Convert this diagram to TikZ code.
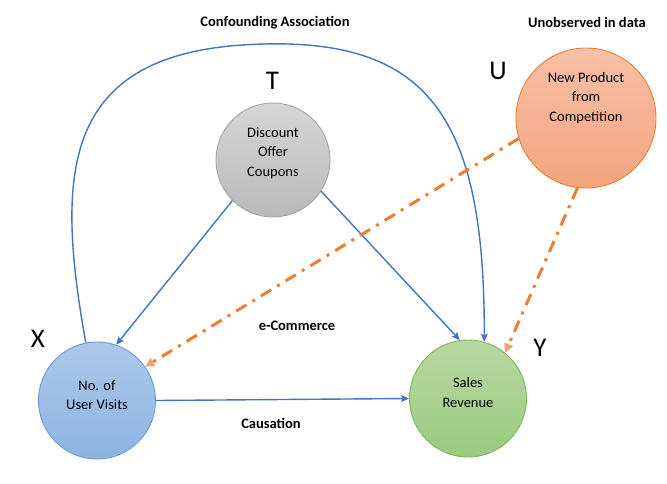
\documentclass[tikz,border=0pt]{standalone}
\usepackage{fontspec}
\setmainfont{Carlito}
\usetikzlibrary{arrows.meta}
\definecolor{bluel}{HTML}{4472C4}
\definecolor{orl}{HTML}{ED7D31}
\definecolor{orhead}{HTML}{F4A070}
\definecolor{gtop}{HTML}{D6D6D6}
\definecolor{gbot}{HTML}{B9B9B9}
\definecolor{gbd}{HTML}{A5A5A5}
\definecolor{btop}{HTML}{ADC8EA}
\definecolor{bbot}{HTML}{8DB3E2}
\definecolor{bbd}{HTML}{6C9BD8}
\definecolor{grtop}{HTML}{B7D8A3}
\definecolor{grbot}{HTML}{9BCB7E}
\definecolor{grbd}{HTML}{7DB55A}
\definecolor{otop}{HTML}{F7C0A6}
\definecolor{obot}{HTML}{F4A47F}
\tikzset{
  circ/.style={circle, inner sep=0pt, line width=0.9pt},
  ctext/.style={font=\fontsize{14.5}{19.5}\selectfont, align=center, inner sep=0pt},
  bigl/.style={font=\fontsize{27}{30}\selectfont, inner sep=0pt},
  lbl/.style={font=\fontsize{14.5}{17}\selectfont\bfseries, inner sep=0pt},
  barrow/.style={draw=bluel, line width=1.4pt, -{Stealth[length=8pt,width=7pt,inset=1.5pt]}},
  oarrow/.style={draw=orl, line width=3pt, dash pattern=on 12pt off 7pt on 3pt off 7pt, -{Triangle[length=9pt,width=9pt,fill=orhead,color=orhead]}},
}
\begin{document}
\begin{tikzpicture}[x=1pt,y=-1pt]
\useasboundingbox (0,0) rectangle (667,483);
% circles
\node[circ, minimum size=114pt, draw=gbd, top color=gtop, bottom color=gbot] (T) at (273,160) {};
\node[circ, minimum size=117pt, draw=bbd, top color=btop, bottom color=bbot] (X) at (97,400.5) {};
\node[circ, minimum size=117pt, draw=grbd, top color=grtop, bottom color=grbot] (Y) at (468,398.5) {};
\node[circ, minimum size=140pt, draw=orl, top color=otop, bottom color=obot] (U) at (586,118) {};
% texts in circles
\node[ctext] (Tt) at (273,153) {Discount\\Offer\\Coupons};
\node[ctext] (Xt) at (97,395) {No. of\\User Visits};
\node[ctext] (Yt) at (468,392.5) {Sales\\Revenue};
\node[ctext] (Ut) at (586,98) {New Product\\from\\Competition};
% letters
\node[bigl] (Tl) at (272.5,81) {T};
\node[bigl] (Ul) at (498,71) {U};
\node[bigl] (Xl) at (38,339) {X};
\node[bigl] (Yl) at (540,348) {Y};
% labels
\node[lbl] (l1) at (275,23) {Confounding Association};
\node[lbl] (l2) at (587,22) {Unobserved in data};
\node[lbl] (l3) at (297,326) {e-Commerce};
\node[lbl] (l4) at (271,423) {Causation};
% blue arrows
\draw[barrow] (T.225) -- (X.71);
\draw[barrow] (T.-33) -- (Y.98);
\draw[barrow] (X.east) -- (Y.west);
\draw[barrow] (X.101) .. controls (55,170) and (60,48) .. (265,44)
   .. controls (430,40) and (485,120) .. (Y.74);
% orange dash-dot arrows
\draw[oarrow] (U.197) -- (X.35);
\draw[oarrow] (U.-97) -- (Y.51);
\end{tikzpicture}
\end{document}
